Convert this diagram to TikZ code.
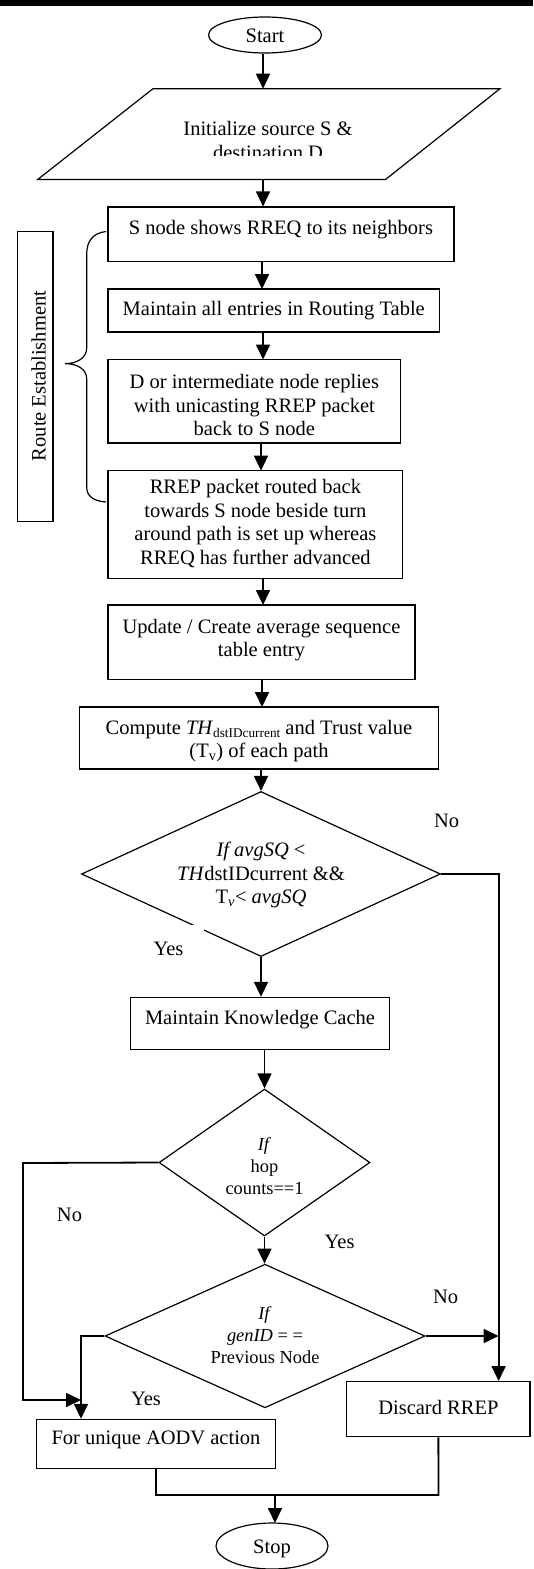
\documentclass[tikz,border=0pt]{standalone}
\usepackage{fontspec}
\setmainfont{Liberation Serif}
\usetikzlibrary{arrows.meta,shapes.geometric}

\begin{document}
\begin{tikzpicture}[x=1pt,y=-1pt,
  box/.style={draw,line width=1.2pt,inner sep=0pt},
  dia/.style={draw,diamond,line width=1.2pt,inner sep=0pt},
  oval/.style={draw,ellipse,line width=1.2pt,inner sep=0pt},
  txt/.style={align=center,inner sep=0pt,font=\fontsize{20.5}{23.5}\selectfont},
  stxt/.style={align=center,inner sep=0pt,font=\fontsize{18.4}{22.4}\selectfont},
  lab/.style={inner sep=0pt,font=\fontsize{20.5}{23.5}\selectfont},
  wire/.style={line width=1.8pt},
  conn/.style={line width=1.8pt,-{Triangle[length=15pt,width=14pt]}},
]
\useasboundingbox (0,0) rectangle (533,1569);
\fill[white] (0,0) rectangle (533,1569);

% rule across the top
\fill[black] (0,0) rectangle (533,6);

% terminals
\node[oval,minimum width=113pt,minimum height=36pt] (start) at (265,35) {};
\node[txt] (starttxt) at (265,36) {Start};

% input parallelogram
\coordinate (paraT) at (263,88.7);
\coordinate (paraB) at (263,179.5);
\draw[line width=1.2pt] (153,88.7) -- (500,88.7) -- (385.5,179.5) -- (37.7,179.5) -- cycle;
\node[txt] (paratxt1) at (268,128.5) {Initialize source S \&};
\begin{scope}
  \clip (0,140) rectangle (533,155);
  \node[txt] (paratxt2) at (268,152) {destination D};
\end{scope}

% route establishment steps
\node[box,minimum width=346pt,minimum height=54.6pt] (b1) at (281,234.3) {};
\node[txt] at (281,229.4) {S node shows RREQ to its neighbors};

\node[box,minimum width=331.5pt,minimum height=43pt] (b2) at (273.75,310.5) {};
\node[txt] at (273.75,310.6) {Maintain all entries in Routing Table};

\node[box,minimum width=292.7pt,minimum height=83.5pt] (b3) at (254.35,401.25) {};
\node[txt] at (254.35,405) {D or intermediate node replies\\with unicasting RREP packet\\back to S node};

\node[box,minimum width=294.8pt,minimum height=107.9pt] (b4) at (255.4,524.55) {};
\node[txt] at (255.4,523.5) {RREP packet routed back\\towards S node beside turn\\around path is set up whereas\\RREQ has further advanced};

% grouping brace and its caption
\draw[line width=1.2pt] (106,231.5) .. controls (93,233) and (86.7,241) .. (86.7,254)
  -- (86.7,348) .. controls (86.7,358) and (77,363.6) .. (65,363.6)
  .. controls (77,363.6) and (86.7,369) .. (86.7,379)
  -- (86.7,487) .. controls (86.7,496) and (93,501) .. (106,502);
\node[box,minimum width=35.7pt,minimum height=290pt] (grp) at (35.15,376.45) {};
\node[txt,rotate=90] at (38.5,376) {Route Establishment};

% sequence and trust computation
\node[box,minimum width=307pt,minimum height=74.5pt] (b5) at (261.5,642.25) {};
\node[txt] at (261.5,640) {Update / Create average sequence\\table entry};

\node[box,minimum width=359pt,minimum height=62pt] (b6) at (259,738) {};
\node[txt] at (259,741) {Compute \textit{TH}\raisebox{-3pt}{\fontsize{13.3}{13.3}\selectfont dstIDcurrent} and Trust value\\(T\textsubscript{v}) of each path};

% first decision
\node[dia,minimum width=359pt,minimum height=165pt] (d1) at (261,874) {};
\node[txt] at (261,875) {\textit{If avgSQ} <\\\textit{TH}dstIDcurrent \&\&\\T\textsubscript{\textit{v}}< \textit{avgSQ}};

\node[box,minimum width=259pt,minimum height=51.8pt] (b7) at (260,1023.3) {};
\node[txt] at (260,1020) {Maintain Knowledge Cache};

% second decision
\node[dia,minimum width=211pt,minimum height=147pt] (d2) at (264.5,1162.5) {};
\node[stxt] at (264.5,1166) {\textit{If}\\hop\\counts==1};

% third decision
\node[dia,minimum width=320pt,minimum height=143.6pt] (d3) at (265,1336) {};
\node[stxt] at (265,1335) {\textit{If}\\\textit{genID} = =\\Previous Node};

% outcomes
\node[box,minimum width=183.3pt,minimum height=55.1pt] (disc) at (438.35,1409.15) {};
\node[txt] at (438.35,1407) {Discard RREP};

\node[box,minimum width=238.6pt,minimum height=49pt] (aodv) at (156,1443.9) {};
\node[txt] at (156,1440) {For unique AODV action};

\node[oval,minimum width=112pt,minimum height=46pt] (stop) at (272,1546) {};
\node[txt] at (272,1549) {Stop};

% main flow
\draw[conn] (paraT |- start.south) -- (paraT);
\draw[conn] (paraB) -- (paraB |- b1.north);
\draw[conn] (262,261.6) -- (262,289);
\draw[conn] (263,332) -- (263,359.5);
\draw[conn] (261,443) -- (261,470.6);
\draw[conn] (263,578.5) -- (263,605);
\draw[conn] (262,679.5) -- (262,707);
\draw[conn] (d1.north |- b6.south) -- (d1.north);
\draw[conn] (d1.south) -- (d1.south |- b7.north);
\draw[conn] (d2.north |- b7.south) -- (d2.north);
\draw[conn] (d2.south) -- (d2.south |- d3.north);

% branches
\coordinate (rj) at (498.6,874);
\draw[conn] (d1.east) -- (rj) -- (rj |- disc.north);
\draw[conn] (d3.east) -- (d3.east -| rj);
\coordinate (lj) at (23,1163);
\coordinate (yj) at (81,1400);
\draw[conn] (d2.west) -- (lj) -- (lj |- yj) -- (yj);
\draw[conn] (d3.west) -- (yj |- d3.west) -- (yj |- aodv.north);

% merge into stop
\coordinate (mj) at (156,1495);
\coordinate (mr) at (438.5,1495);
\draw[wire] (aodv.south) -- (mj) -- (mr) -- (disc.south);
\draw[conn] (275,1495) -- (275,1523);

% branch labels
\node[lab] (no1) at (446.6,821) {No};
\node[lab,fill=white,minimum width=71pt,minimum height=47pt] (yes1) at (168.5,948.5) {Yes};
\node[lab,fill=white,minimum width=67pt,minimum height=51pt] (no2) at (69.5,1215) {No};
\node[lab] (yes2) at (339.6,1242) {Yes};
\node[lab] (no3) at (445.6,1297) {No};
\node[lab] (yes3) at (146,1399) {Yes};
\end{tikzpicture}
\end{document}
